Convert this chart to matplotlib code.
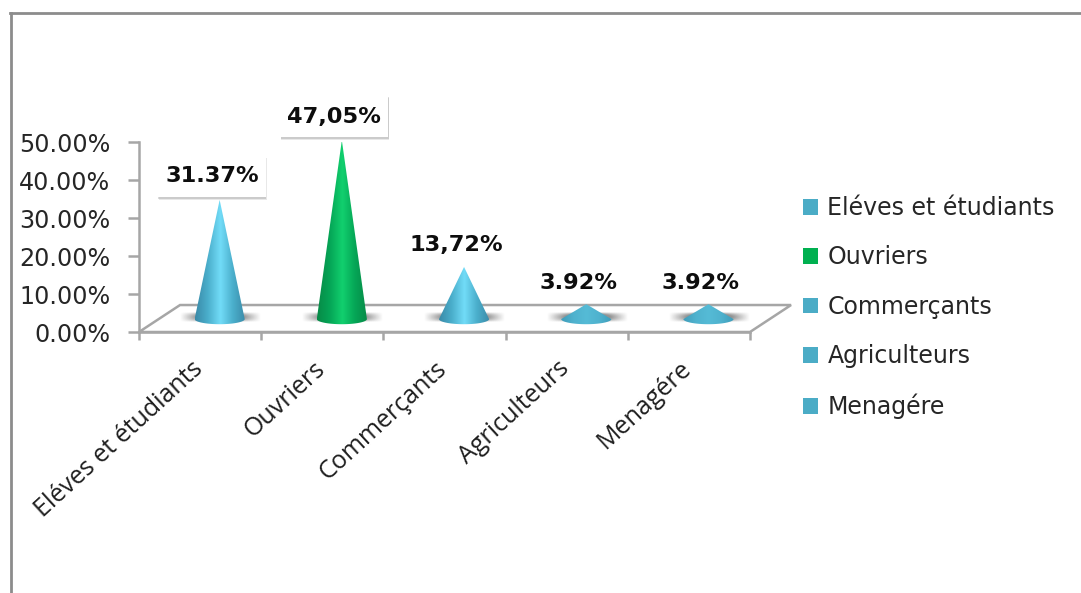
import numpy as np
import matplotlib
matplotlib.use('Agg')
import matplotlib.pyplot as plt
import matplotlib.patheffects as pe
from matplotlib.colors import LinearSegmentedColormap
from matplotlib.lines import Line2D
from matplotlib.patches import Patch, Polygon, Rectangle
from matplotlib.transforms import ScaledTranslation

categories = ['Eléves et étudiants', 'Ouvriers', 'Commerçants', 'Agriculteurs', 'Menagére']
values = [31.37, 47.05, 13.72, 3.92, 3.92]
value_labels = ['31.37%', '47,05%', '13,72%', '3.92%', '3.92%']
boxed = [True, True, False, False, False]
y_ticks = [0, 10, 20, 30, 40, 50]
y_tick_labels = ['0.00%', '10.00%', '20.00%', '30.00%', '40.00%', '50.00%']

W, H = 1081, 593
BLUE = '#4bacc6'
GREEN = '#00b050'
cone_colors = [BLUE, GREEN, BLUE, BLUE, BLUE]
GREY = '#a6a6a6'

# floor depth of the fake 3d, in data units
depth_x = 0.336
depth_y = 7.1
# where the cones stand on the floor
base_x = 0.66
base_y = 3.4
half_w = 0.205
ell_h = 1.35

fig = plt.figure(figsize=(W / 100, H / 100), dpi=100)
ax = fig.add_axes([139 / W, (H - 332) / H, 611 / W, 190 / H])
ax.set_xlim(0, 5)
ax.set_ylim(0, 50)
for s in ['top', 'right']:
    ax.spines[s].set_visible(False)
for s in ['left', 'bottom']:
    ax.spines[s].set_color(GREY)
    ax.spines[s].set_linewidth(1.8)

ax.set_yticks(y_ticks)
ax.set_yticklabels(y_tick_labels, fontsize=17.2, color='#262626')
ax.tick_params(axis='y', length=8, width=1.8, color=GREY, pad=12.7)
ax.set_xticks(range(6))
ax.set_xticklabels([])
ax.tick_params(axis='x', length=6, width=1.8, color=GREY)

# floor
ax.add_patch(Polygon([(0, 0), (5, 0), (5 + depth_x, depth_y), (depth_x, depth_y)],
                     closed=True, fc='white', ec=GREY, lw=1.8, clip_on=False, zorder=1))

cmap_blue = LinearSegmentedColormap.from_list('b', ['#3a8aa8', '#4aaecb', '#72dcf8', '#4aaecb', '#3a8aa8'])
cmap_flat = LinearSegmentedColormap.from_list('f', ['#3f9dba', '#4fb2ce', '#55bbd6', '#4fb2ce', '#3f9dba'])
cmap_green = LinearSegmentedColormap.from_list('g', ['#078a47', '#05a556', '#12d06e', '#05a556', '#078a47'])
grad = np.linspace(0, 1, 200).reshape(1, -1)

# soft shadow behind each cone
sx = np.linspace(-1, 1, 200)
sy = np.linspace(-1, 1, 40)
gx, gy = np.meshgrid(sx, sy)
shadow = np.zeros((40, 200, 4))
shadow[..., :3] = 0.35
shadow[..., 3] = np.clip((1 - np.abs(gx)) * (1 - gy ** 2) * 1.5, 0, 0.65)

th = np.linspace(np.pi, 2 * np.pi, 60)
for i, (v, c, lab, box) in enumerate(zip(values, cone_colors, value_labels, boxed)):
    cx = base_x + i
    ax.imshow(shadow, extent=[cx - 0.325, cx + 0.335, base_y - 0.8, base_y + 1.6],
              aspect='auto', zorder=2, clip_on=False, interpolation='bilinear')
    apex = base_y + v
    outline = [(cx, apex)] + list(zip(cx + half_w * np.cos(th[::-1]), base_y + ell_h * np.sin(th[::-1])))
    cone = Polygon(outline, closed=True, transform=ax.transData, fc='none', ec='none')
    ax.add_patch(cone)
    cm = cmap_green if c == GREEN else (cmap_flat if v < 10 else cmap_blue)
    im = ax.imshow(grad, extent=[cx - half_w, cx + half_w, 0, 60], cmap=cm,
                   aspect='auto', zorder=3, interpolation='bilinear')
    im.set_clip_path(cone)

    if box:
        # white label card, sized in inches and pinned to the cone tip
        tr = fig.dpi_scale_trans + ScaledTranslation(cx, apex, ax.transData)
        card = Rectangle((-0.615, 0.03), 1.08, 0.42, transform=tr, fc='white', ec='none',
                         clip_on=False, zorder=5)
        card.set_path_effects([
            pe.SimplePatchShadow(offset=(0.5, -2.2), shadow_rgbFace='#999999', alpha=0.22),
            pe.SimplePatchShadow(offset=(0.2, -1.2), shadow_rgbFace='#888888', alpha=0.3),
            pe.Normal()])
        ax.add_patch(card)
    ax.annotate(lab, (cx, apex), xytext=(-5.5, 17 if box else 15.5), textcoords='offset points',
                ha='center', va='center', fontsize=16.2, fontweight='bold',
                color='#0d0d0d', annotation_clip=False, zorder=6)

ax.set_xlim(0, 5)
ax.set_ylim(0, 50)

# rotated category labels, one per slot
for i, name in enumerate(categories):
    ax.annotate(name, (i + 0.5, 0), xytext=(-0.5, -24), textcoords='offset points',
                ha='right', va='center', rotation=42.5, rotation_mode='anchor',
                fontsize=18, color='#1f1f1f', family='Open Sans', annotation_clip=False)

handles = [Patch(fc=c, ec='none') for c in cone_colors]
fig.legend(handles, categories, loc='upper left', bbox_to_anchor=(796 / W, 1 - 189 / H),
           frameon=False, fontsize=17, handlelength=0.65, handleheight=0.65,
           handletextpad=0.38, labelspacing=1.076, borderaxespad=0, borderpad=0.3,
           labelcolor='#262626')

# outer chart frame, only top and left stay in the crop
fig.add_artist(Line2D([10.5 / W, 10.5 / W], [0, 1 - 12.5 / H], color='#8c8c8c', lw=2))
fig.add_artist(Line2D([9.5 / W, 1], [1 - 12.5 / H, 1 - 12.5 / H], color='#8c8c8c', lw=2))

fig.savefig('out.png', dpi=100)
